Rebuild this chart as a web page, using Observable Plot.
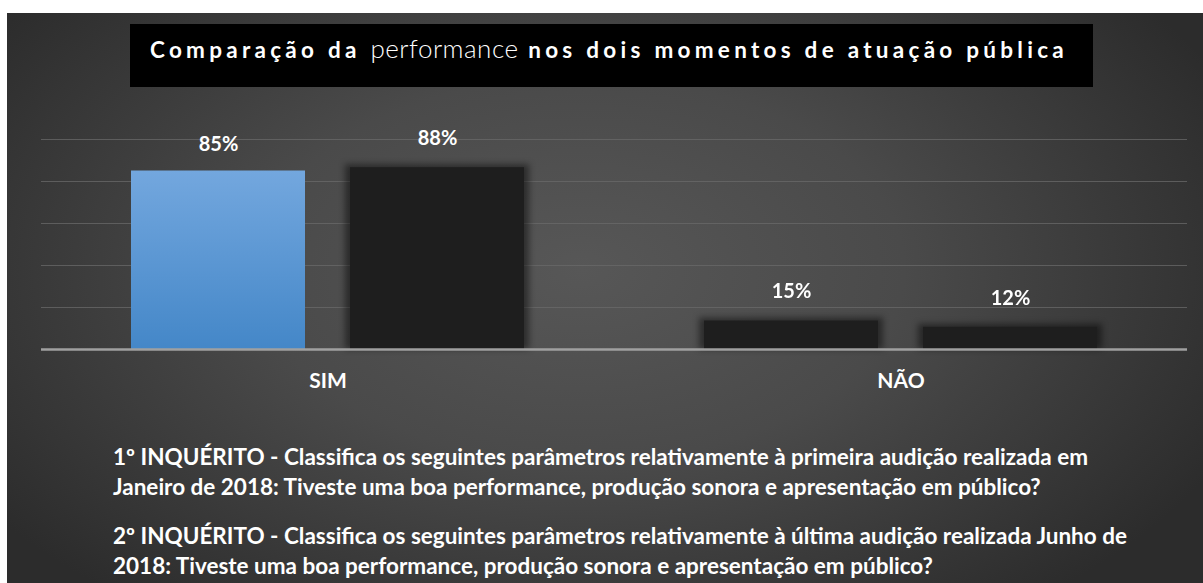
<!DOCTYPE html>
<html>
<head>
<meta charset="utf-8">
<script src="https://cdn.jsdelivr.net/npm/d3@7"></script>
<script src="https://cdn.jsdelivr.net/npm/@observablehq/plot@0.6"></script>
<style>
  html, body { margin: 0; padding: 0; background: #fff; width: 1203px; height: 583px; overflow: hidden; }
  #bg { position: absolute; left: 7px; top: 13px; width: 1196px; height: 570px;
        background: radial-gradient(ellipse 60% 75% at 48% 45%, #575757 0%, #4a4a4a 45%, #2c2c2c 100%); }
  #titlebox { position: absolute; left: 130px; top: 24px; width: 963px; height: 63px; background: #000; }
  #title { position: absolute; left: 150px; top: 35px; color: #fff; font-family: Lato, sans-serif; font-weight: 700;
           font-size: 22.5px; line-height: 26px; letter-spacing: 3px; white-space: nowrap; }
  #title .light { font-weight: 300; letter-spacing: 0.5px; font-size: 26px; }
  #chart { position: absolute; left: 0; top: 100px; }
  #notes { position: absolute; left: 113px; top: 442px; color: #fff; font-family: Lato, sans-serif;
           font-weight: 700; font-size: 22.5px; line-height: 30px; white-space: nowrap; }
  #notes p { margin: 0 0 19px 0; }
</style>
</head>
<body>
<div id="bg"></div>
<div id="titlebox"></div>
<div id="title">Comparação da <span class="light">performance</span> nos dois momentos de atuação pública</div>
<div id="chart"></div>
<div id="notes">
  <p>1º INQUÉRITO - Classifica os seguintes parâmetros relativamente à primeira audição realizada em<br>Janeiro de 2018: Tiveste uma boa performance, produção sonora e apresentação em público?</p>
  <p>2º INQUÉRITO - Classifica os seguintes parâmetros relativamente à última audição realizada Junho de<br>2018: Tiveste uma boa performance, produção sonora e apresentação em público?</p>
</div>
<script>
const categories = ["SIM", "NÃO"];
const series = ["1º INQUÉRITO", "2º INQUÉRITO"];
const inquerito1 = [85, 15];
const inquerito2 = [88, 12];
const yTicks = [0, 20, 40, 60, 80, 100];

const data = [];
categories.forEach((c, i) => {
  data.push({cat: c, series: series[0], value: inquerito1[i]});
  data.push({cat: c, series: series[1], value: inquerito2[i]});
});
const isBlue = d => d.cat === categories[0] && d.series === series[0];

const plot = Plot.plot({
  width: 1203,
  height: 300,
  marginLeft: 40,
  marginRight: 16,
  marginTop: 39,
  marginBottom: 51,
  style: {background: "transparent", color: "#fff", fontFamily: "Lato, sans-serif"},
  fx: {domain: categories, padding: 0, label: null, axis: "bottom", tickSize: 0, tickPadding: 24},
  x: {domain: series, axis: null, paddingInner: 0.2045, paddingOuter: 0.406},
  y: {domain: [0, 100], axis: null},
  facet: {data: data, x: "cat"},
  marks: [
    Plot.ruleY(yTicks.slice(1), {stroke: "#6a6a6a", strokeWidth: 1, strokeOpacity: 0.75}),
    Plot.barY(data, {x: "series", y: "value", filter: d => !isBlue(d), fill: "#000", fillOpacity: 0.45,
                     insetLeft: -5, insetRight: -5, ariaDescription: "shadow"}),
    Plot.barY(data, {x: "series", y: "value", filter: d => !isBlue(d), fill: "#1e1e1e", insetTop: 3}),
    Plot.barY(data, {x: "series", y: "value", filter: isBlue, fill: "url(#blueGrad)"}),
    Plot.ruleY([0], {stroke: "#a0a0a0", strokeWidth: 2.5}),
    Plot.text(data, {x: "series", y: "value", text: d => d.value + "%", dy: -26, fill: "#fff",
                     fontSize: 20, fontWeight: "bold"})
  ]
});

const svg = d3.select(plot);
const defs = svg.insert("defs", ":first-child");
const g = defs.append("linearGradient").attr("id", "blueGrad").attr("x1", 0).attr("y1", 0).attr("x2", 0).attr("y2", 1);
g.append("stop").attr("offset", "0%").attr("stop-color", "#73a7de");
g.append("stop").attr("offset", "100%").attr("stop-color", "#4487c8");
const f = defs.append("filter").attr("id", "blur").attr("x", "-20%").attr("y", "-20%").attr("width", "140%").attr("height", "140%");
f.append("feGaussianBlur").attr("stdDeviation", 3);
svg.selectAll("g[aria-description=shadow]").attr("filter", "url(#blur)");
svg.selectAll("g[aria-label='fx-axis tick label'] text, g[aria-label='fx-axis tick label']")
  .attr("font-size", 21).attr("font-weight", "bold");
document.getElementById("chart").appendChild(plot);

// fit the title's letter spacing to the reference span
const title = document.getElementById("title");
const target = 918;
const w = title.getBoundingClientRect().width;
const nBold = (title.textContent.length - "performance".length);
const ls = 3 + (target - w) / nBold;
title.style.letterSpacing = ls + "px";
title.querySelector(".light").style.letterSpacing = "0.5px";
</script>
</body>
</html>
